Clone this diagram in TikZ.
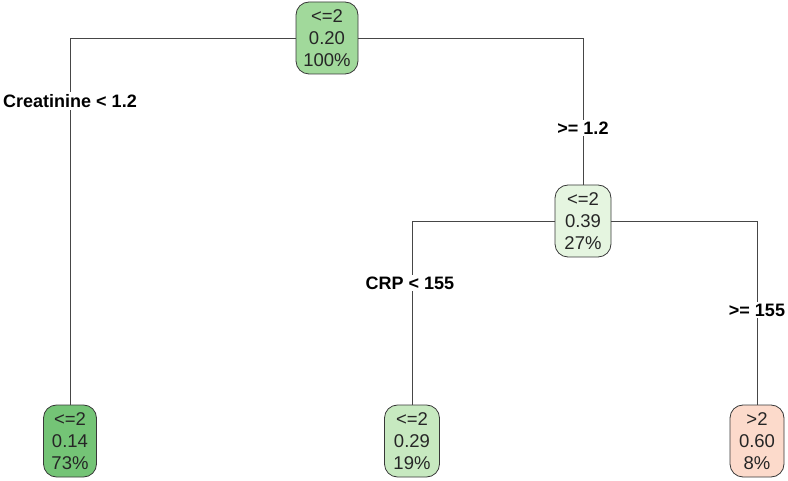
\documentclass[tikz,border=0pt]{standalone}
\usepackage{fontspec}
\setmainfont{Liberation Sans}
\definecolor{gA}{RGB}{161,217,155}
\definecolor{gB}{RGB}{116,196,118}
\definecolor{gC}{RGB}{229,245,224}
\definecolor{gD}{RGB}{199,233,192}
\definecolor{rA}{RGB}{252,218,203}
\definecolor{edge}{RGB}{70,70,70}
\begin{document}
\begin{tikzpicture}[x=1pt,y=-1pt,
  leaf/.style={draw=edge!80!black,line width=0.8pt,rounded corners=13pt,minimum width=58pt,minimum height=72pt,
    align=center,inner sep=1pt,font=\fontsize{18.5}{22}\selectfont,text=black!85},
  cond/.style={fill=white,inner sep=2pt,font=\fontsize{18}{20}\selectfont\bfseries},
  conn/.style={draw=edge,line width=0.7pt}]
\useasboundingbox (0,0) rectangle (788,481);
\node[leaf,fill=gA,minimum width=62pt] (r) at (327,38) {<=2\\0.20\\100\%};
\node[leaf,fill=gB,minimum width=53pt] (a) at (70,441) {<=2\\0.14\\73\%};
\node[leaf,fill=gC,minimum width=56pt] (b) at (583,221) {<=2\\0.39\\27\%};
\node[leaf,fill=gD,minimum width=55pt] (c) at (412,441) {<=2\\0.29\\19\%};
\node[leaf,fill=rA,minimum width=54pt] (d) at (757,441) {>2\\0.60\\8\%};
\draw[conn] (r.west) -| (a.north);
\draw[conn] (r.east) -| (b.north);
\draw[conn] (b.west) -| (c.north);
\draw[conn] (b.east) -| (d.north);
\node[cond] (l1) at (70,101) {Creatinine < 1.2};
\node[cond] (l2) at (583,128) {>= 1.2};
\node[cond] (l3) at (410,283) {CRP < 155};
\node[cond] (l4) at (757,310) {>= 155};
\end{tikzpicture}
\end{document}
